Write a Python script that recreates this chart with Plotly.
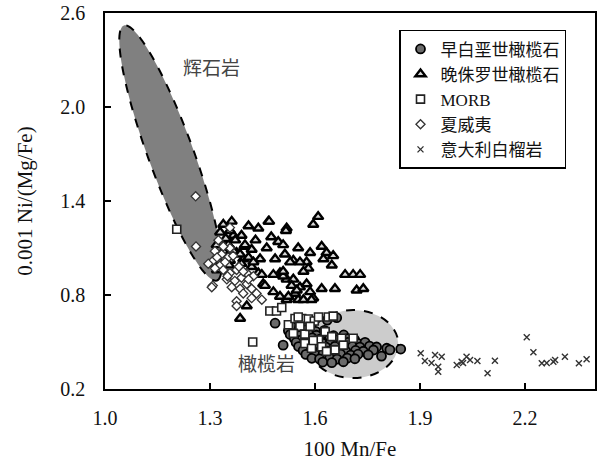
import numpy as np
import plotly.graph_objects as go

# ---------------- data ----------------
# 早白垩世橄榄石 (circles)
early_x = [1.486, 1.509, 1.662, 1.635, 1.79, 1.805, 1.814, 1.845,
           1.532, 1.556, 1.579,
           1.524, 1.551, 1.573, 1.602, 1.627,
           1.529, 1.557, 1.582, 1.604, 1.631, 1.653, 1.682,
           1.541, 1.563, 1.592, 1.614, 1.642, 1.663, 1.692, 1.713,
           1.546, 1.571, 1.594, 1.622, 1.644, 1.672, 1.694, 1.722, 1.743,
           1.553, 1.582, 1.603, 1.631, 1.657, 1.678, 1.707, 1.728, 1.756, 1.776,
           1.566, 1.588, 1.617, 1.638, 1.667, 1.688, 1.716, 1.738, 1.767,
           1.574, 1.602, 1.623, 1.652, 1.673, 1.702, 1.723, 1.752,
           1.591, 1.613, 1.642, 1.663, 1.692, 1.714,
           1.622, 1.648, 1.681]
early_y = [0.62, 0.48, 0.655, 0.64, 0.41, 0.46, 0.45, 0.455,
           0.602, 0.595, 0.607,
           0.572, 0.565, 0.578, 0.568, 0.574,
           0.548, 0.541, 0.552, 0.543, 0.549, 0.54, 0.545,
           0.522, 0.515, 0.526, 0.518, 0.523, 0.514, 0.521, 0.516,
           0.497, 0.49, 0.499, 0.492, 0.5, 0.489, 0.497, 0.491, 0.498,
           0.471, 0.466, 0.474, 0.468, 0.473, 0.465, 0.472, 0.467, 0.474, 0.468,
           0.446, 0.441, 0.448, 0.442, 0.447, 0.44, 0.446, 0.441, 0.449,
           0.421, 0.417, 0.424, 0.418, 0.423, 0.416, 0.422, 0.418,
           0.396, 0.392, 0.398, 0.391, 0.397, 0.393,
           0.372, 0.368, 0.374]

# 晚侏罗世橄榄石 (triangles)
late_x = [1.609, 1.595, 1.467, 1.338, 1.362, 1.41, 1.438, 1.519, 1.495, 1.509,
          1.552, 1.586, 1.619, 1.633, 1.652, 1.624, 1.648, 1.576, 1.581, 1.538,
          1.486, 1.443, 1.419, 1.686, 1.709, 1.729, 1.619, 1.657, 1.719, 1.738,
          1.595, 1.552, 1.405, 1.386, 1.519, 1.50, 1.538, 1.557, 1.543, 1.519,
          1.50, 1.481, 1.452, 1.438, 1.419, 1.395, 1.376, 1.348, 1.367, 1.39,
          1.357, 1.329, 1.329, 1.367, 1.352, 1.319, 1.338, 1.386, 1.41, 1.424,
          1.39, 1.357, 1.514, 1.481, 1.509, 1.448, 1.457, 1.517, 1.529, 1.557,
          1.567, 1.509, 1.576, 1.533, 1.586, 1.548, 1.524, 1.567, 1.59, 1.469,
          1.31, 1.32, 1.345, 1.372, 1.398, 1.43, 1.462, 1.475, 1.355, 1.40]
late_y = [1.30, 1.25, 1.27, 1.25, 1.27, 1.24, 1.226, 1.226, 1.14, 1.12,
          1.10, 1.07, 1.11, 1.07, 1.05, 1.03, 0.99, 1.01, 0.97, 1.02,
          1.03, 1.03, 1.09, 0.93, 0.93, 0.93, 0.84, 0.84, 0.83, 0.84,
          0.78, 0.77, 0.73, 0.65, 0.90, 0.94, 0.90, 0.85, 0.81, 0.77,
          0.79, 0.82, 0.87, 0.94, 0.98, 1.03, 1.07, 1.13, 1.18, 1.18,
          1.21, 1.20, 1.13, 1.08, 1.12, 1.12, 1.08, 1.06, 1.04, 1.01,
          1.00, 1.02, 1.06, 0.93, 0.92, 0.93, 0.86, 1.21, 1.01, 1.01,
          0.95, 0.95, 0.87, 0.86, 0.82, 0.83, 0.79, 0.77, 0.77, 1.27,
          1.00, 0.96, 1.16, 1.15, 1.11, 1.15, 1.10, 1.17, 0.99, 1.12]

# MORB (squares)
morb_x = [1.205, 1.422, 1.471, 1.49, 1.524, 1.543, 1.562, 1.581, 1.598, 1.638,
          1.557, 1.629, 1.648, 1.676, 1.709, 1.571, 1.61, 1.571, 1.619, 1.657,
          1.59, 1.538, 1.681, 1.61, 1.586, 1.552, 1.652, 1.633, 1.595, 1.505]
morb_y = [1.22, 0.50, 0.698, 0.698, 0.61, 0.65, 0.65, 0.647, 0.634, 0.66,
          0.60, 0.566, 0.534, 0.524, 0.524, 0.55, 0.513, 0.49, 0.47, 0.45,
          0.46, 0.555, 0.48, 0.66, 0.60, 0.66, 0.665, 0.44, 0.51, 0.72]

# 夏威夷 (diamonds)
hawaii_x = [1.259, 1.26, 1.308, 1.309, 1.295, 1.329, 1.338, 1.357, 1.376, 1.348,
            1.371, 1.39, 1.405, 1.386, 1.362, 1.419, 1.433, 1.395, 1.419, 1.376,
            1.448, 1.305, 1.333, 1.314, 1.352, 1.357, 1.338, 1.324, 1.357, 1.314,
            1.405, 1.424, 1.376, 1.343, 1.366, 1.383, 1.41, 1.32, 1.35, 1.395]
hawaii_y = [1.43, 1.11, 0.86, 1.02, 1.00, 0.99, 0.96, 0.94, 0.96, 0.90,
            0.89, 0.91, 0.87, 0.84, 0.85, 0.84, 0.81, 0.81, 0.78, 0.76,
            0.77, 0.85, 1.06, 1.08, 1.04, 1.10, 1.11, 1.15, 1.23, 0.97,
            0.94, 0.92, 0.73, 1.01, 1.05, 0.98, 0.90, 1.04, 0.92, 0.95]

# 意大利白榴岩 (crosses)
italy_x = [1.902, 1.914, 1.933, 1.943, 1.962, 1.952, 1.952, 2.005, 2.019, 2.033,
           2.043, 2.064, 2.023, 2.093, 2.114, 2.205, 2.224, 2.248, 2.262, 2.281,
           2.286, 2.314, 2.354, 2.376]
italy_y = [0.428, 0.379, 0.366, 0.417, 0.406, 0.342, 0.31, 0.353, 0.374, 0.406,
           0.385, 0.379, 0.366, 0.30, 0.381, 0.53, 0.434, 0.364, 0.366, 0.374,
           0.385, 0.406, 0.364, 0.39]

series_names = ["早白垩世橄榄石", "晚侏罗世橄榄石", "MORB", "夏威夷", "意大利白榴岩"]
x_ticks = [1.0, 1.3, 1.6, 1.9, 2.2]
y_ticks = [0.2, 0.8, 1.4, 2.0, 2.6]

# field labels
field_labels = ["辉石岩", "橄榄岩"]

# ---------------- layout constants ----------------
W, H = 597, 463
ML, MR, MT, MB = 105, 2, 13, 74
XR = [1.0, 2.4]
YR = [0.2, 2.6]
sx = (W - ML - MR) / (XR[1] - XR[0])
sy = (H - MT - MB) / (YR[1] - YR[0])

SERIF = "Liberation Serif, Times New Roman, Noto Sans CJK SC, serif"


def rotated_ellipse_path(p_top, p_bot, minor_px, n=120):
    # ellipse defined by major-axis end points (data) and minor semi-axis (screen px)
    x1, y1 = p_top[0] * sx, p_top[1] * sy
    x2, y2 = p_bot[0] * sx, p_bot[1] * sy
    cx, cy = (x1 + x2) / 2, (y1 + y2) / 2
    a = np.hypot(x2 - x1, y2 - y1) / 2
    ang = np.arctan2(y2 - y1, x2 - x1)
    t = np.linspace(0, 2 * np.pi, n)
    ex = cx + a * np.cos(t) * np.cos(ang) - minor_px * np.sin(t) * np.sin(ang)
    ey = cy + a * np.cos(t) * np.sin(ang) + minor_px * np.sin(t) * np.cos(ang)
    ex, ey = ex / sx, ey / sy
    return "M " + " L ".join(f"{a_:.5f},{b_:.5f}" for a_, b_ in zip(ex, ey)) + " Z"


fig = go.Figure()

# draw order: triangles, circles, squares, diamonds, crosses
fig.add_trace(go.Scatter(x=late_x, y=late_y, mode="markers", name=series_names[1], legendrank=2,
                         marker=dict(symbol="triangle-up", size=9, color="#d8d8d8",
                                     line=dict(color="black", width=2.4))))
fig.add_trace(go.Scatter(x=early_x, y=early_y, mode="markers", name=series_names[0], legendrank=1,
                         marker=dict(symbol="circle", size=9, color="#6a6a6a",
                                     line=dict(color="black", width=1.8))))
fig.add_trace(go.Scatter(x=morb_x, y=morb_y, mode="markers", name=series_names[2], legendrank=3,
                         marker=dict(symbol="square", size=8, color="white",
                                     line=dict(color="#222", width=1.6))))
fig.add_trace(go.Scatter(x=hawaii_x, y=hawaii_y, mode="markers", name=series_names[3], legendrank=4,
                         marker=dict(symbol="diamond", size=7, color="white",
                                     line=dict(color="#333", width=1.3))))
fig.add_trace(go.Scatter(x=italy_x, y=italy_y, mode="markers", name=series_names[4], legendrank=5,
                         marker=dict(symbol="x-thin", size=6, color="#333",
                                     line=dict(color="#333", width=1.4))))

# fields
fig.add_shape(type="path", path=rotated_ellipse_path((1.054, 2.52), (1.32, 0.893), 22.6),
              xref="x", yref="y", fillcolor="#808080",
              line=dict(color="black", width=2, dash="dash"), layer="below")
fig.add_shape(type="circle", x0=1.58, x1=1.838, y0=0.27, y1=0.704,
              xref="x", yref="y", fillcolor="#cccccc",
              line=dict(color="black", width=2, dash="dash"), layer="below")

fig.add_annotation(x=1.305, y=2.26, text=field_labels[0], showarrow=False,
                   font=dict(family="Noto Sans CJK SC", size=19, color="#444"))
fig.add_annotation(x=1.46, y=0.366, text=field_labels[1], showarrow=False,
                   font=dict(family="Noto Sans CJK SC", size=19, color="#444"))

axis_common = dict(showgrid=False, zeroline=False, showline=True, linecolor="black",
                   linewidth=1.5, mirror=True, ticks="inside", ticklen=6, tickwidth=1.5,
                   tickcolor="black", tickformat=".1f",
                   tickfont=dict(family=SERIF, size=20, color="#111"))

fig.update_xaxes(range=XR, tickvals=x_ticks, ticklabelstandoff=10,
                 title=dict(text="100 Mn/Fe", font=dict(family=SERIF, size=21, color="#111"),
                            standoff=14), **axis_common)
fig.update_yaxes(range=YR, tickvals=y_ticks, ticklabelstandoff=14,
                 title=dict(text="0.001 Ni/(Mg/Fe)", font=dict(family=SERIF, size=21, color="#111"),
                            standoff=22), **axis_common)

fig.update_layout(
    width=W, height=H,
    margin=dict(l=ML, r=MR, t=MT, b=MB, autoexpand=False),
    plot_bgcolor="white", paper_bgcolor="white",
    showlegend=True,
    legend=dict(x=0.6, y=0.955, xanchor="left", yanchor="top",
                bgcolor="white", bordercolor="black", borderwidth=1.5,
                font=dict(family=SERIF, size=17, color="#111"),
                tracegroupgap=0, itemwidth=30),
)

fig.write_html("out.html")
